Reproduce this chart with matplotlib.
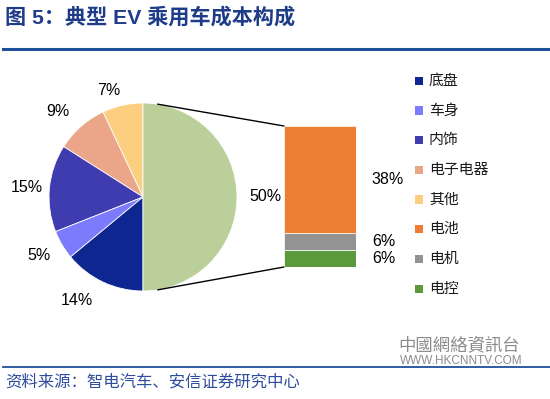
import matplotlib
matplotlib.use("Agg")
import matplotlib.pyplot as plt
from matplotlib.patches import Rectangle, ConnectionPatch
from matplotlib.lines import Line2D
import numpy as np

W, H = 550, 399

# ---- data ----
pie_labels = ["底盘", "车身", "内饰", "电子电器", "其他"]
pie_values = [14, 5, 15, 9, 7]
bar_labels = ["电池", "电机", "电控"]
bar_values = [38, 6, 6]

pie_colors = ["#0E2790", "#7B7BFB", "#3F3CAF", "#EBA68A", "#FBCE80"]
bar_colors = ["#EC7D32", "#939393", "#5B9A3C"]
rest_color = "#BACF99"

title = "图 5：典型 EV 乘用车成本构成"
source = "资料来源：智电汽车、安信证券研究中心"

# label placement tweaks (angle offset in degrees, radial distance) for
# wedges in drawing order: 其他, 电子电器, 内饰, 车身, 底盘, rest
label_angle_nudge = [5.1, 3.5, 0.5, -1.2, -7.3, 0.0]
label_dist = [1.19, 1.28, 1.24, 1.27, 1.30, 1.30]

plt.rcParams['font.family'] = ['Liberation Sans', 'Noto Sans CJK SC', 'DejaVu Sans']

fig = plt.figure(figsize=(W / 100, H / 100), dpi=100)

def fx(x):
    return x / W

def fy(y):
    return 1 - y / H

# ---- pie ----
ax1 = fig.add_axes([fx(49), fy(291), 188 / W, 188 / H])
vals = pie_values[::-1] + [sum(bar_values)]
cols = pie_colors[::-1] + [rest_color]
wedges, _ = ax1.pie(vals, colors=cols, startangle=90, counterclock=True, radius=1,
                    wedgeprops=dict(edgecolor="white", linewidth=0.6))
ax1.set_xlim(-1, 1)
ax1.set_ylim(-1, 1)
for w, v, dn, dr in zip(wedges, vals, label_angle_nudge, label_dist):
    ang = np.deg2rad((w.theta1 + w.theta2) / 2 + dn)
    ax1.text(dr * np.cos(ang), dr * np.sin(ang), f"{v}%", ha="center", va="center",
             fontsize=11.5, color="black")

# ---- stacked bar ----
ax2 = fig.add_axes([fx(284), fy(267), 72 / W, 141 / H])
bottom = 0
for v, c in zip(bar_values[::-1], bar_colors[::-1]):
    ax2.bar(0, v, bottom=bottom, width=1, color=c, edgecolor="white", linewidth=0.5)
    ax2.text(0.72, bottom + v / 2, f"{v}%", ha="left", va="center", fontsize=11.5, color="black")
    bottom += v
ax2.set_xlim(-0.5, 0.5)
ax2.set_ylim(0, sum(bar_values))
ax2.axis("off")

# connector lines
a = np.deg2rad(81)
for sgn, yb in [(1, sum(bar_values)), (-1, 0)]:
    cp = ConnectionPatch(xyA=(np.cos(a), sgn * np.sin(a)), coordsA=ax1.transData,
                         xyB=(-0.5, yb), coordsB=ax2.transData, color="black", lw=1.0)
    fig.add_artist(cp)

# ---- legend ----
for i, (lab, c) in enumerate(zip(pie_labels + bar_labels, pie_colors + bar_colors)):
    y = 80.7 + i * 29.7
    fig.add_artist(Rectangle((fx(415), fy(y + 4.2)), 8.3 / W, 8.3 / H,
                             transform=fig.transFigure, color=c, lw=0))
    fig.text(fx(429), fy(y), lab, va="center", ha="left", fontsize=10.7, color="#1a1a1a")

# ---- title & source ----
fig.text(fx(5), fy(17), title, fontsize=15.2, fontweight="bold", color="#1F3C88", va="center")
fig.add_artist(Line2D([fx(3), 1], [fy(49), fy(49)], color="#1F4E9A", lw=2.2))
fig.add_artist(Line2D([fx(3), 1], [fy(367), fy(367)], color="#1F4E9A", lw=1.3))
fig.text(fx(5), fy(382), source, fontsize=11.8, color="#2E4C9E", va="center")

# watermark
fig.text(fx(398), fy(345), "中國網絡資訊台", fontsize=12.5, color="#8c8c8c", va="center",
         family=["Noto Sans CJK TC", "DejaVu Sans"])
fig.text(fx(400), fy(361), "WWW.HKCNNTV.COM", fontsize=8.5, color="#8c8c8c", va="center")

fig.savefig("out.png", dpi=100)
